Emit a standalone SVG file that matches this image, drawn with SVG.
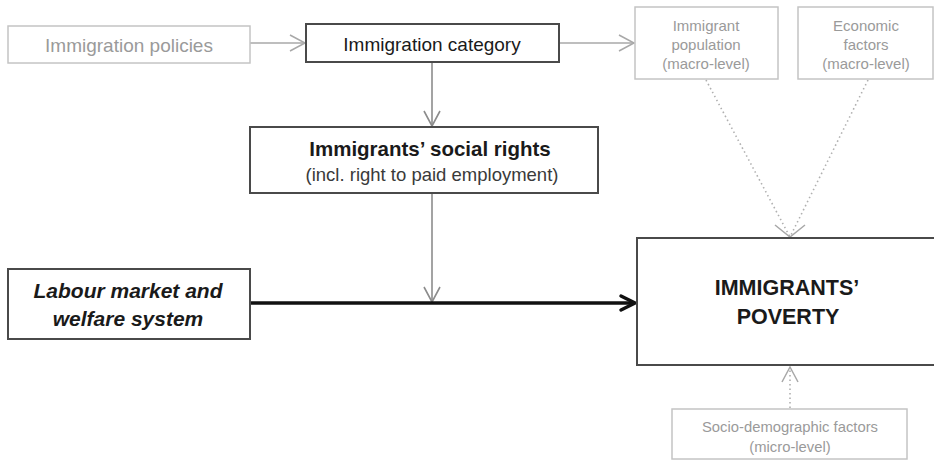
<svg xmlns="http://www.w3.org/2000/svg" width="934" height="461" viewBox="0 0 934 461">
<style>
text{font-family:"Liberation Sans",Arial,sans-serif;text-anchor:middle}
.lt rect{fill:#fff;stroke:#c4c4c4;stroke-width:1.5}
.lt text{fill:#9a9a9a}
.dk rect{fill:#fff;stroke:#4a4a4a;stroke-width:2}
.dk text{fill:#1a1a1a}
.gl{stroke:#8c8c8c;stroke-width:1.6;fill:none}
.gy{stroke:#a8a8a8;stroke-width:1.5;fill:none}
.dt{stroke:#b0b0b0;stroke-width:1.6;fill:none;stroke-dasharray:1.5 3}
.bk{stroke:#111;stroke-width:3.5;fill:none}
</style>
<defs>
<marker id="ag" markerUnits="userSpaceOnUse" markerWidth="20" markerHeight="20" refX="15" refY="8" orient="auto" overflow="visible">
<path d="M0,0 L15,8 L0,16" fill="none" stroke="#8c8c8c" stroke-width="1.6"/>
</marker>
<marker id="al" markerUnits="userSpaceOnUse" markerWidth="20" markerHeight="20" refX="15" refY="8" orient="auto" overflow="visible">
<path d="M0,0 L15,8 L0,16" fill="none" stroke="#a8a8a8" stroke-width="1.5"/>
</marker>
<marker id="ab" markerUnits="userSpaceOnUse" markerWidth="20" markerHeight="20" refX="15" refY="8" orient="auto" overflow="visible">
<path d="M1,1 L15,8 L1,15" fill="none" stroke="#111" stroke-width="3.5" stroke-linecap="round"/>
</marker>
</defs>
<g id="connectors">
<line class="gy" x1="250" y1="43" x2="305" y2="43" marker-end="url(#al)"/>
<line class="gy" x1="559" y1="43" x2="634" y2="43" marker-end="url(#al)"/>
<line class="gl" x1="432" y1="62" x2="432" y2="126" marker-end="url(#ag)"/>
<line class="gl" x1="432" y1="193" x2="432" y2="302" marker-end="url(#ag)"/>
<line class="bk" x1="250" y1="303" x2="635" y2="303" marker-end="url(#ab)"/>
<line class="dt" x1="706" y1="80" x2="790" y2="237"/>
<line class="dt" x1="868" y1="80" x2="790" y2="237"/>
<path class="gy" d="M775,225 L790,237 L805,225"/>
<line class="dt" x1="790" y1="408" x2="790" y2="367" marker-end="url(#al)"/>
</g>
<g id="immigration-policies" class="lt">
<rect x="8" y="26" width="242" height="37"/>
<text x="129" y="52" font-size="19">Immigration policies</text>
</g>
<g id="immigration-category" class="dk">
<rect x="306" y="24" width="253" height="38"/>
<text x="432" y="51" font-size="19">Immigration category</text>
</g>
<g id="immigrant-population" class="lt">
<rect x="635" y="7" width="143" height="72"/>
<text font-size="15"><tspan x="706" y="31">Immigrant</tspan><tspan x="706" y="50">population</tspan><tspan x="706" y="69">(macro-level)</tspan></text>
</g>
<g id="economic-factors" class="lt">
<rect x="798" y="7" width="135" height="72"/>
<text font-size="15"><tspan x="866" y="31">Economic</tspan><tspan x="866" y="50">factors</tspan><tspan x="866" y="69">(macro-level)</tspan></text>
</g>
<g id="social-rights" class="dk">
<rect x="250" y="127" width="348" height="66"/>
<text x="430" y="156" font-size="20.5" font-weight="bold">Immigrants’ social rights</text>
<text x="432" y="181" font-size="18.5" style="fill:#3a3a3a">(incl. right to paid employment)</text>
</g>
<g id="labour-market" class="dk">
<rect x="8" y="269" width="242" height="70"/>
<text font-size="21" font-weight="bold" font-style="italic"><tspan x="128" y="298">Labour market and</tspan><tspan x="128" y="326">welfare system</tspan></text>
</g>
<g id="poverty" class="dk">
<rect x="637" y="238" width="300" height="127"/>
<text font-size="21.5" font-weight="bold"><tspan x="787" y="295">IMMIGRANTS’</tspan><tspan x="788" y="324">POVERTY</tspan></text>
</g>
<g id="socio-demographic" class="lt">
<rect x="672" y="409" width="235" height="50"/>
<text font-size="14.8"><tspan x="790" y="432">Socio-demographic factors</tspan><tspan x="790" y="452">(micro-level)</tspan></text>
</g>
</svg>
